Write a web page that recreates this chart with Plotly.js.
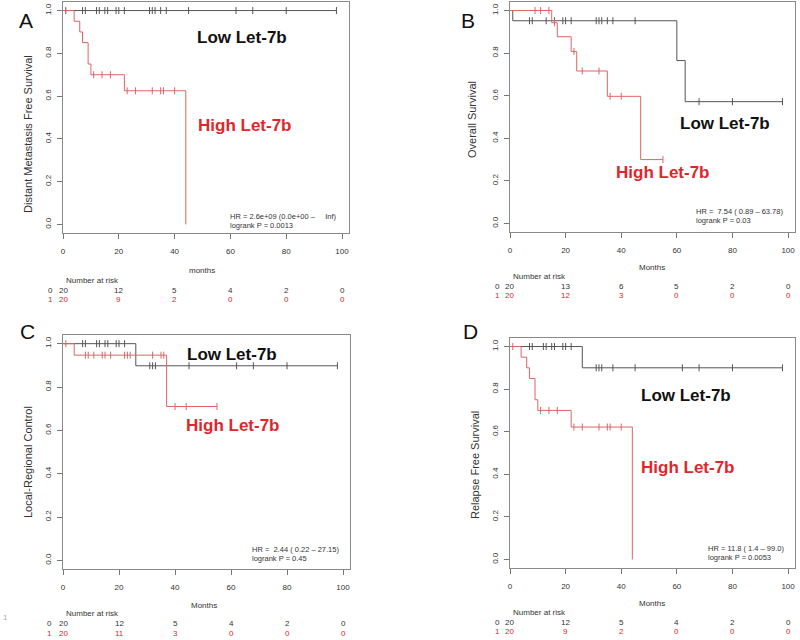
<!DOCTYPE html>
<html>
<head>
<meta charset="utf-8">
<script src="https://cdn.plot.ly/plotly-3.0.1.min.js"></script>
<style>body{margin:0;background:#fff}#chart{width:800px;height:640px}</style>
</head>
<body>
<div id="chart"></div>
<script>
const W = 800, H = 640;
const FONT = 'Liberation Sans, Arial, Helvetica, sans-serif';
const BLACK_LINE = '#555';
const RED_LINE = '#e06464';
const RED_TEXT = '#e0262b';

const riskTimes = [0, 20, 40, 60, 80, 100];
const yTicks = [0, 0.2, 0.4, 0.6, 0.8, 1.0];

// A - distant metastasis free survival
const lowA_t = [0];
const lowA_s = [1];
const lowA_end = 98;
const lowA_cens = [1, 7, 8, 12, 13, 15, 16, 19, 20, 22, 31, 32, 33, 35, 37, 45, 62, 68, 80, 98];
const highA_t = [0, 4, 6, 7, 9, 10, 22, 44];
const highA_s = [1, 0.95, 0.90, 0.85, 0.75, 0.70, 0.625, 0];
const highA_end = 44;
const highA_cens = [11, 14, 17, 23, 26, 32, 35, 36, 40];
const riskA_low = [20, 12, 5, 4, 2, 0];
const riskA_high = [20, 9, 2, 0, 0, 0];

// B - overall survival
const lowB_t = [0, 1, 60, 63];
const lowB_s = [1, 0.952, 0.765, 0.572];
const lowB_end = 98;
const lowB_cens = [7, 8, 13, 16, 19, 20, 22, 31, 32, 33, 35, 37, 45, 68, 80, 98];
const highB_t = [0, 15, 17, 22, 24, 35, 47];
const highB_s = [1, 0.943, 0.877, 0.808, 0.716, 0.597, 0.30];
const highB_end = 55;
const highB_cens = [9, 11, 14, 16, 23, 26, 32, 36, 40, 55];
const riskB_low = [20, 13, 6, 5, 2, 0];
const riskB_high = [20, 12, 3, 0, 0, 0];

// C - local-regional control
const lowC_t = [0, 26];
const lowC_s = [1, 0.898];
const lowC_end = 98;
const lowC_cens = [7, 8, 12, 13, 15, 16, 19, 20, 22, 31, 32, 33, 45, 62, 68, 80, 98];
const highC_t = [0, 4, 37];
const highC_s = [1, 0.947, 0.71];
const highC_end = 55;
const highC_cens = [1, 8, 9, 11, 14, 15, 17, 22, 23, 24, 32, 35, 36, 40, 44, 55];
const riskC_low = [20, 12, 5, 4, 2, 0];
const riskC_high = [20, 11, 3, 0, 0, 0];

// D - relapse free survival
const lowD_t = [0, 26];
const lowD_s = [1, 0.90];
const lowD_end = 98;
const lowD_cens = [7, 8, 12, 13, 15, 16, 19, 20, 22, 31, 32, 33, 37, 45, 62, 68, 80, 98];
const highD_t = [0, 4, 6, 7, 9, 10, 22, 44];
const highD_s = [1, 0.95, 0.90, 0.85, 0.75, 0.70, 0.622, 0];
const highD_end = 44;
const highD_cens = [1, 11, 14, 17, 23, 26, 32, 35, 36, 40];
const riskD_low = [20, 12, 5, 4, 2, 0];
const riskD_high = [20, 9, 2, 0, 0, 0];

const fx = px => px / W;
const fy = py => 1 - py / H;

const panels = [
    {
        letter: 'A', box: [63, 2, 349, 233], letterPos: [26, 20],
        yTitle: 'Distant Metastasis Free Survival', yTitlePos: [28, 134],
        xTitle: 'months', xTitlePos: [202, 270],
        low: [lowA_t, lowA_s, lowA_end, lowA_cens], high: [highA_t, highA_s, highA_end, highA_cens],
        lowPos: [242, 37], highPos: [245, 125],
        hr: ['HR = 2.6e+09 (0.0e+00 –\u00a0\u00a0\u00a0\u00a0\u00a0Inf)', 'logrank P = 0.0013'], hrPos: [228, 216],
        narY: 280, rowY: [290, 299], rowX: 50, risk: [riskA_low, riskA_high]
    },
    {
        letter: 'B', box: [510, 2, 795, 232], letterPos: [468, 20],
        yTitle: 'Overall Survival', yTitlePos: [472, 120],
        xTitle: 'Months', xTitlePos: [652, 267],
        low: [lowB_t, lowB_s, lowB_end, lowB_cens], high: [highB_t, highB_s, highB_end, highB_cens],
        lowPos: [725, 124], highPos: [663, 173],
        hr: ['HR =\u00a0 7.54 ( 0.89 – 63.78)', 'logrank P = 0.03'], hrPos: [694, 211],
        narY: 276, rowY: [286, 295], rowX: 497, risk: [riskB_low, riskB_high]
    },
    {
        letter: 'C', box: [63, 335, 350, 569], letterPos: [27, 331],
        yTitle: 'Local-Regional Control', yTitlePos: [28, 462],
        xTitle: 'Months', xTitlePos: [204, 605],
        low: [lowC_t, lowC_s, lowC_end, lowC_cens], high: [highC_t, highC_s, highC_end, highC_cens],
        lowPos: [232, 354], highPos: [233, 425],
        hr: ['HR =\u00a0 2.44 ( 0.22 – 27.15)', 'logrank P = 0.45'], hrPos: [250, 549],
        narY: 613, rowY: [623, 633], rowX: 49, risk: [riskC_low, riskC_high]
    },
    {
        letter: 'D', box: [510, 338, 795, 568], letterPos: [470, 331],
        yTitle: 'Relapse Free Survival', yTitlePos: [475, 465],
        xTitle: 'Months', xTitlePos: [652, 603],
        low: [lowD_t, lowD_s, lowD_end, lowD_cens], high: [highD_t, highD_s, highD_end, highD_cens],
        lowPos: [686, 395], highPos: [688, 467],
        hr: ['HR = 11.8 ( 1.4 – 99.0)', 'logrank P = 0.0053'], hrPos: [706, 548],
        narY: 612, rowY: [622, 631], rowX: 497, risk: [riskD_low, riskD_high]
    }
];

function survAt(t, times, surv) {
    let s = surv[0];
    times.forEach((ti, i) => { if (ti <= t) s = surv[i]; });
    return s;
}

function curveTraces([times, surv, end, cens], color, xa, ya) {
    return [
        {
            x: times.concat([end]), y: surv.concat([surv[surv.length - 1]]),
            xaxis: xa, yaxis: ya, type: 'scatter', mode: 'lines',
            line: {shape: 'hv', width: 1, color}, hoverinfo: 'skip', showlegend: false
        },
        {
            x: cens, y: cens.map(t => survAt(t, times, surv)),
            xaxis: xa, yaxis: ya, type: 'scatter', mode: 'markers',
            marker: {symbol: 'line-ns-open', size: 5, color, line: {width: 1, color}},
            hoverinfo: 'skip', showlegend: false
        }
    ];
}

const traces = [];
const annotations = [];
const layout = {
    width: W, height: H,
    margin: {l: 0, r: 0, t: 0, b: 0},
    paper_bgcolor: '#fff', plot_bgcolor: '#fff',
    font: {family: FONT, color: '#333'},
    showlegend: false
};

const note = (text, px, py, opts = {}) => annotations.push(Object.assign({
    text, x: fx(px), y: fy(py), xref: 'paper', yref: 'paper',
    showarrow: false, xanchor: 'center', yanchor: 'middle',
    font: {family: FONT, size: 8, color: '#333'}
}, opts));

panels.forEach((p, i) => {
    const n = i === 0 ? '' : String(i + 1);
    const xa = 'x' + n, ya = 'y' + n;
    const [l, t, r, b] = p.box;
    const common = {
        showline: true, mirror: true, linecolor: '#8a8a8a', linewidth: 1,
        ticks: 'outside', ticklen: 5, tickcolor: '#777', tickwidth: 1,
        showgrid: false, zeroline: false, fixedrange: true,
        tickfont: {family: FONT, size: 8, color: '#333'}
    };
    layout['xaxis' + n] = Object.assign({}, common, {
        domain: [fx(l), fx(r)], anchor: ya, range: [0, 102.5],
        tickvals: riskTimes, ticklabelstandoff: 5
    });
    layout['yaxis' + n] = Object.assign({}, common, {
        domain: [fy(b), fy(t)], anchor: xa, range: [-0.04, 1.04],
        tickvals: yTicks, tickformat: '.1f', tickangle: -90, ticklabelstandoff: 3
    });

    traces.push(...curveTraces(p.low, BLACK_LINE, xa, ya));
    traces.push(...curveTraces(p.high, RED_LINE, xa, ya));

    note(p.letter, p.letterPos[0], p.letterPos[1], {font: {family: FONT, size: 21, color: '#111'}});
    note(p.yTitle, p.yTitlePos[0], p.yTitlePos[1], {textangle: -90, font: {family: FONT, size: 11, color: '#333'}});
    note(p.xTitle, p.xTitlePos[0], p.xTitlePos[1]);
    note('<b>Low Let-7b</b>', p.lowPos[0], p.lowPos[1], {font: {family: FONT, size: 17, color: '#111'}});
    note('<b>High Let-7b</b>', p.highPos[0], p.highPos[1], {font: {family: FONT, size: 17, color: RED_TEXT}});
    note(p.hr[0], p.hrPos[0], p.hrPos[1], {xanchor: 'left', font: {family: FONT, size: 7.5, color: '#333'}});
    note(p.hr[1], p.hrPos[0], p.hrPos[1] + 9, {xanchor: 'left', font: {family: FONT, size: 7.5, color: '#333'}});

    note('Number at risk', l + 1, p.narY, {xanchor: 'left'});
    note('0', p.rowX, p.rowY[0]);
    note('1', p.rowX, p.rowY[1], {font: {family: FONT, size: 8, color: RED_TEXT}});
    p.risk.forEach((row, k) => {
        row.forEach((v, j) => annotations.push({
            text: String(v), x: riskTimes[j], y: fy(p.rowY[k]), xref: xa, yref: 'paper',
            showarrow: false, xanchor: 'center', yanchor: 'middle',
            font: {family: FONT, size: 8, color: k === 0 ? '#333' : RED_TEXT}
        }));
    });
});

// stray page mark at the left edge
note('1', 5, 617, {font: {family: FONT, size: 8, color: '#aaa'}});

layout.annotations = annotations;

Plotly.newPlot('chart', traces, layout, {displayModeBar: false, staticPlot: true});
</script>
</body>
</html>
